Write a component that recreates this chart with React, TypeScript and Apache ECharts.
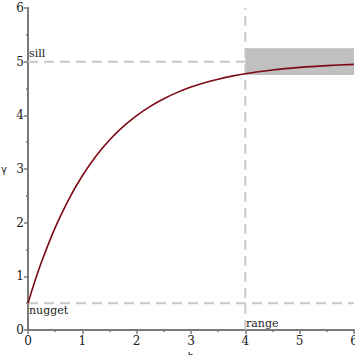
import React, { useEffect, useRef } from "react";
import * as echarts from "echarts";

const hValues = [0, 0.1, 0.25, 0.5, 0.75, 1, 1.25, 1.5, 1.75, 2, 2.25, 2.5, 2.75, 3, 3.25, 3.5, 3.75, 4, 4.5, 5, 5.5, 6];
const gammaValues = [0.5, 0.825, 1.27, 1.907, 2.436, 2.874, 3.238, 3.539, 3.789, 3.996, 4.167, 4.31, 4.428, 4.526, 4.607, 4.674, 4.73, 4.776, 4.846, 4.894, 4.927, 4.95];
const nugget = 0.5;
const sill = 5;
const range = 4;
const bandLow = 4.75;
const bandHigh = 5.25;
const xTicks = [0, 1, 2, 3, 4, 5, 6];
const yTicks = [0, 1, 2, 3, 4, 5, 6];

const FONT = "DejaVu Serif";
const DASH = { color: "#c8c8c8", width: 2, type: [10, 6] as number[] };

export default function App() {
  const ref = useRef<HTMLDivElement>(null);
  useEffect(() => {
    const chart = echarts.init(ref.current!, undefined, { renderer: "svg" });
    const axisCommon = {
      type: "value",
      interval: 1,
      axisLine: { show: true, onZero: false, lineStyle: { color: "#7a7a7a", width: 2 } },
      axisTick: { show: true, length: 4, lineStyle: { color: "#7a7a7a", width: 1.5 } },
      minorTick: { show: true, splitNumber: 2, length: 2, lineStyle: { color: "#7a7a7a", width: 1.5 } },
      splitLine: { show: false },
      axisLabel: { fontFamily: FONT, fontSize: 12, color: "#222" },
    };
    chart.setOption({
      animation: false,
      grid: { left: 28, right: 1, top: 8, bottom: 25, containLabel: false, outerBoundsMode: "none" },
      xAxis: {
        ...axisCommon,
        min: xTicks[0],
        max: xTicks[xTicks.length - 1],
        name: "h",
        nameLocation: "middle",
        nameGap: 21,
        nameTextStyle: { fontFamily: "DejaVu Sans", fontSize: 10, color: "#222" },
        axisLabel: { ...axisCommon.axisLabel, margin: 5 },
      },
      yAxis: {
        ...axisCommon,
        min: yTicks[0],
        max: yTicks[yTicks.length - 1],
        name: "γ",
        nameLocation: "middle",
        nameGap: 21,
        nameRotate: 0,
        nameTextStyle: { fontFamily: "DejaVu Sans", fontSize: 10, color: "#222" },
        axisLabel: { ...axisCommon.axisLabel, margin: 4 },
      },
      series: [
        {
          type: "line",
          data: [[range, bandLow], [6, bandLow]],
          symbol: "none",
          lineStyle: { width: 0, opacity: 0 },
          silent: true,
          z: 1,
          markArea: {
            silent: true,
            itemStyle: { color: "#c0c0c0" },
            data: [[{ coord: [range, bandLow] }, { coord: [6, bandHigh] }]],
          },
        },
        {
          type: "line",
          data: [[0, sill], [range, sill]],
          symbol: "none",
          lineStyle: DASH,
          silent: true,
          z: 2,
        },
        {
          type: "line",
          data: [[0, nugget], [6, nugget]],
          symbol: "none",
          lineStyle: DASH,
          silent: true,
          z: 2,
        },
        {
          type: "line",
          data: [[range, 0], [range, 6]],
          symbol: "none",
          lineStyle: DASH,
          silent: true,
          z: 2,
        },
        {
          type: "line",
          data: hValues.map((h, i) => [h, gammaValues[i]]),
          symbol: "none",
          smooth: 0.3,
          lineStyle: { color: "#7a0a14", width: 1.6 },
          z: 5,
        },
      ],
      graphic: [
        { type: "text", left: 29, top: 48, style: { text: "sill", font: `11px ${FONT}`, fill: "#222" } },
        { type: "text", left: 29, top: 305, style: { text: "nugget", font: `11px ${FONT}`, fill: "#222" } },
        { type: "text", left: 246, top: 318, style: { text: "range", font: `11px ${FONT}`, fill: "#222" } },
      ],
    });
    return () => chart.dispose();
  }, []);
  return <div ref={ref} style={{ width: 355, height: 355, position: "absolute", left: 0, top: 0 }} />;
}
